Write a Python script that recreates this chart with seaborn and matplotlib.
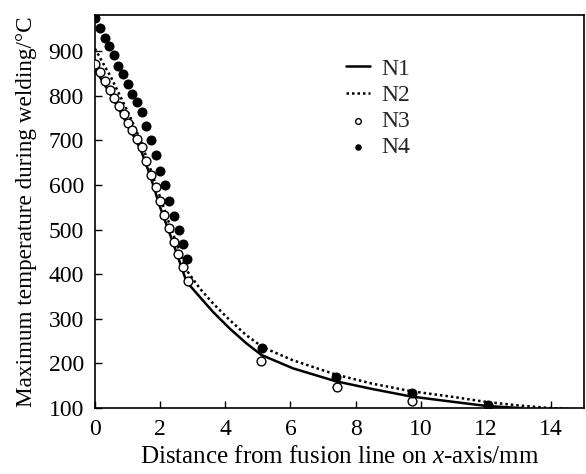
import matplotlib
matplotlib.use("Agg")
import matplotlib.pyplot as plt
import seaborn as sns
import pandas as pd

# N1 (solid line)
n1_x = [0.0, 0.5, 1.0, 1.4, 1.7, 2.0, 2.4, 2.81, 3.22, 3.63, 4.14, 4.65, 5.11, 6.08, 7.4, 8.5, 9.7, 11.0, 12.0, 13.1]
n1_y = [860, 800, 735, 680, 620, 550, 470, 383, 349, 315, 278, 245, 219, 189, 160, 143, 126, 114, 105, 100]
# N2 (dotted line)
n2_x = [0.0, 0.5, 1.0, 1.4, 1.8, 2.2, 2.5, 2.81, 3.22, 3.63, 4.14, 4.65, 5.16, 6.08, 7.4, 8.5, 9.7, 11.0, 12.0, 13.0, 14.0, 15.0]
n2_y = [905, 840, 765, 700, 615, 530, 470, 409, 368, 334, 297, 263, 236, 207, 175, 155, 138, 125, 114, 106, 100, 97]
# N3 (open circles)
n3_x = [0.01, 0.17, 0.32, 0.46, 0.60, 0.74, 0.88, 1.02, 1.15, 1.30, 1.44, 1.58, 1.72, 1.86, 1.99, 2.13, 2.28, 2.42, 2.56, 2.70, 2.86, 5.11, 7.43, 9.72]
n3_y = [870, 852, 832, 813, 795, 776, 758, 738, 722, 703, 685, 653, 623, 595, 563, 533, 504, 473, 445, 416, 384, 206, 148, 116]
# N4 (filled circles)
n4_x = [0.01, 0.15, 0.30, 0.44, 0.58, 0.72, 0.85, 1.00, 1.14, 1.28, 1.43, 1.58, 1.71, 1.86, 1.99, 2.15, 2.28, 2.44, 2.58, 2.70, 2.84, 5.14, 7.41, 9.72, 12.05]
n4_y = [973, 951, 929, 912, 890, 867, 849, 825, 804, 785, 763, 731, 700, 666, 632, 599, 564, 530, 498, 467, 433, 234, 170, 133, 108]

x_ticks = [0, 2, 4, 6, 8, 10, 12, 14]
y_ticks = [100, 200, 300, 400, 500, 600, 700, 800, 900]

sns.set_theme(style="white")
plt.rcParams['font.family'] = ['Liberation Serif', 'DejaVu Serif']
plt.rcParams['mathtext.fontset'] = 'custom'
plt.rcParams['mathtext.it'] = 'Liberation Serif:italic'
plt.rcParams['mathtext.rm'] = 'Liberation Serif'

fig = plt.figure(figsize=(5.86, 4.74), dpi=100)
ax = fig.add_axes([0.162, 0.139, 0.834, 0.829])

sns.lineplot(x=n1_x, y=n1_y, ax=ax, color='black', lw=1.8, ls='-', label='N1', sort=False)
sns.lineplot(x=n2_x, y=n2_y, ax=ax, color='black', lw=1.8, ls=(0, (1, 1.2)), label='N2', sort=False)
sns.scatterplot(x=n3_x, y=n3_y, ax=ax, marker='o', s=40, facecolor='white', edgecolor='black', linewidth=1.0, label='N3', zorder=3)
sns.scatterplot(x=n4_x, y=n4_y, ax=ax, marker='o', s=52, color='black', edgecolor='black', linewidth=0, label='N4', zorder=4)

ax.set_xlim(0, 15)
ax.set_ylim(100, 980)
ax.set_xticks(x_ticks)
ax.set_yticks(y_ticks)
ax.tick_params(direction='in', length=5, width=1, labelsize=17, colors='black',
               top=False, right=False, bottom=True, left=True)
ax.tick_params(axis='x', pad=8)
ax.tick_params(axis='y', pad=8)
for sp in ax.spines.values():
    sp.set_color('black')
    sp.set_linewidth(1.2)

ax.set_xlabel('Distance from fusion line on $x$-axis/mm', fontsize=18, color='black', labelpad=4)
ax.set_ylabel('Maximum temperature during welding/°C', fontsize=16.7, color='black', labelpad=8)

leg = ax.legend(loc='upper left', bbox_to_anchor=(0.495, 0.915), frameon=False, fontsize=17,
                handlelength=1.0, handletextpad=0.5, labelspacing=0.2, markerscale=0.65, borderaxespad=0)

fig.savefig('out.png', dpi=100)
